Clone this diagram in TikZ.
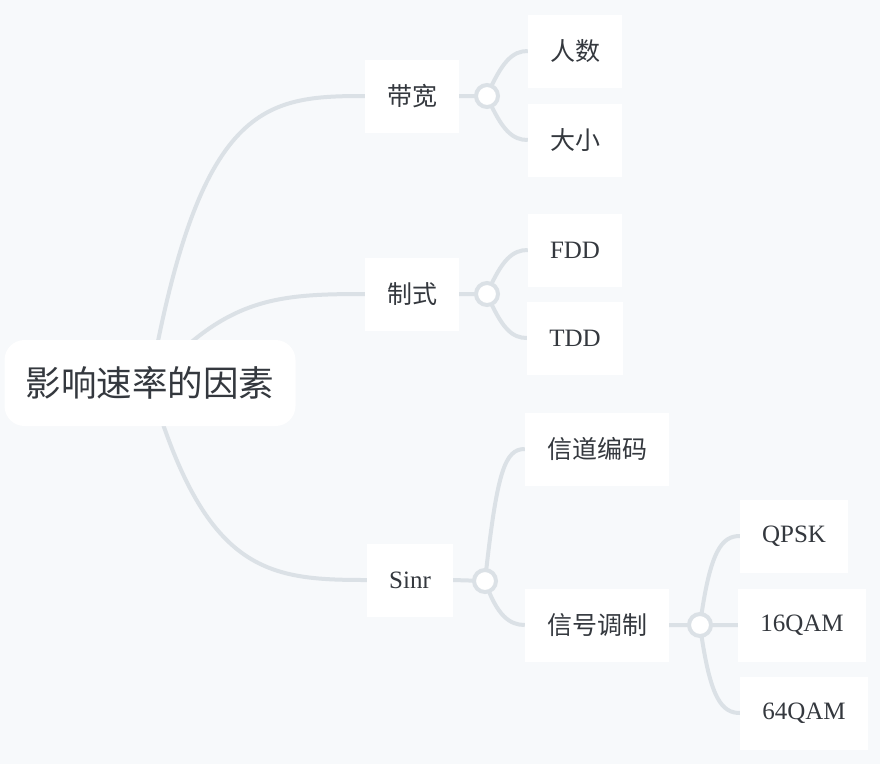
\documentclass[tikz,border=0pt]{standalone}
\usepackage{fontspec}
\setmainfont{Liberation Serif}
\newfontfamily\cjk{Noto Sans CJK SC}
\usetikzlibrary{positioning}
\definecolor{bg}{RGB}{247,249,251}
\definecolor{ln}{RGB}{219,225,230}
\definecolor{tx}{RGB}{52,56,62}
\pgfdeclarelayer{back}
\pgfsetlayers{back,main}

\begin{document}
\begin{tikzpicture}[x=1pt,y=-1pt,
      topic/.style={fill=white,text=tx,font=\fontsize{25}{25}\selectfont,
        inner xsep=22pt,minimum height=73pt},
      root/.style={fill=white,rounded corners=20pt,text=tx,
        font=\cjk\fontsize{35.5}{36}\selectfont,minimum width=291pt,minimum height=86pt},
      joint/.style={circle,draw=ln,line width=4pt,fill=white,minimum size=22pt,inner sep=0pt},
      link/.style={draw=ln,line width=4pt}]
			\useasboundingbox (0,0) rectangle (880,764);
			\node[root] (root) at (150,383) {影响速率的因素};
			% first level
			\node[topic] (bw) at (412,96) {\cjk 带宽};
			\node[topic] (mode) at (412,294) {\cjk 制式};
			\node[topic] (sinr) at (410,580) {Sinr};
			% second level
			\node[topic] (rs) at (575,51) {\cjk 人数};
			\node[topic] (sz) at (575,140) {\cjk 大小};
			\node[topic] (fdd) at (575,250) {FDD};
			\node[topic] (tdd) at (575,338) {TDD};
			\node[topic] (code) at (597,449) {\cjk 信道编码};
			\node[topic] (mod) at (597,625) {\cjk 信号调制};
			% third level
			\node[topic] (qpsk) at (794,536) {QPSK};
			\node[topic] (q16) at (802,625) {16QAM};
			\node[topic] (q64) at (804,713) {64QAM};
			% joints
			\node[joint] (j1) at (487,96) {};
			\node[joint] (j2) at (487,294) {};
			\node[joint] (j3) at (485,581) {};
			\node[joint] (j4) at (700,625) {};
			\begin{pgfonlayer}{back}
				\fill[bg] (0,0) rectangle (880,764);
				\path[link]
					(root.center) .. controls +(50,-280) and +(-100,0) .. (bw.west)
					(root.center) .. controls +(75,-85) and +(-90,0) .. (mode.west)
					(root.center) .. controls +(55,190) and +(-100,0) .. (sinr.west)
					(bw.east) -- (j1.center)
					(mode.east) -- (j2.center)
					(sinr.east) -- (j3.center)
					(mod.east) -- (j4.center)
					(j4.center) -- (q16.west)
					(j1.center) .. controls +(15,-35) and +(-15,0) .. (rs.west)
					(j1.center) .. controls +(15,35) and +(-15,0) .. (sz.west)
					(j2.center) .. controls +(15,-35) and +(-15,0) .. (fdd.west)
					(j2.center) .. controls +(15,35) and +(-15,0) .. (tdd.west)
					(j3.center) .. controls +(12,-110) and +(-20,0) .. (code.west)
					(j3.center) .. controls +(12,35) and +(-15,0) .. (mod.west)
					(j4.center) .. controls +(10,-75) and +(-18,0) .. (qpsk.west)
					(j4.center) .. controls +(10,75) and +(-18,0) .. (q64.west);
			\end{pgfonlayer}
		\end{tikzpicture}
\end{document}
